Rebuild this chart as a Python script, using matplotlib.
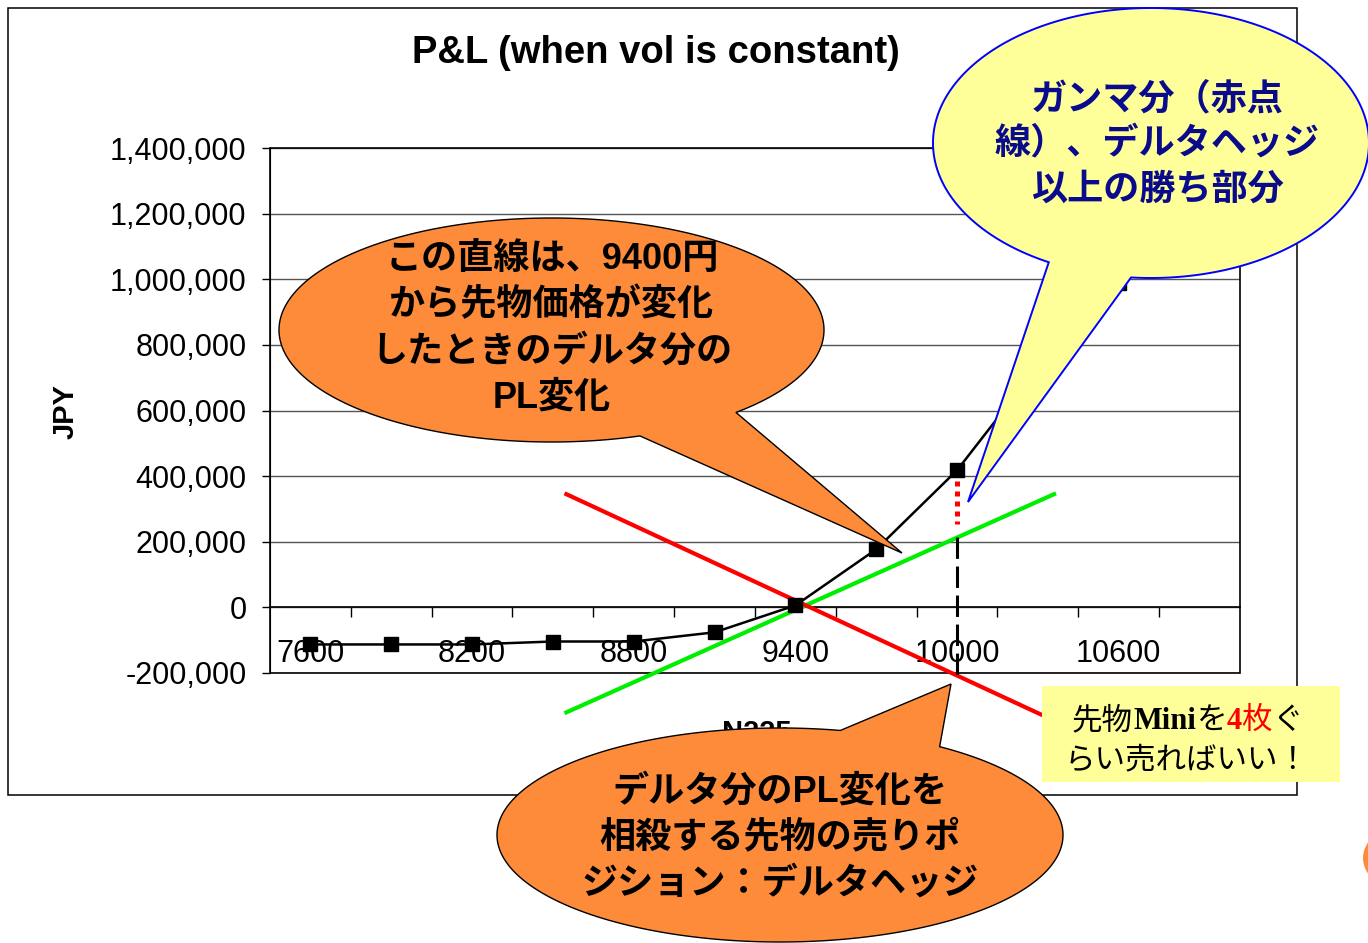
import numpy as np
import matplotlib
matplotlib.use("Agg")
import matplotlib.pyplot as plt
from matplotlib.patches import Polygon, Rectangle, Ellipse
from matplotlib.ticker import FuncFormatter

# P&L of the option position, one point per N225 level
n225 = [7600, 7900, 8200, 8500, 8800, 9100, 9400, 9700, 10000, 10300, 10600]
pnl = [-113000, -113000, -113000, -104000, -104000, -76000, 6000,
       177000, 418000, 735000, 990000]

# category axis (Excel style, 12 slots of 300)
categories = [7600 + 300 * i for i in range(12)]
xtick_labels = ['7600', '8200', '8800', '9400', '10000', '10600']

# delta line (green) and short futures hedge (red)
delta_x = [8550, 10360]
delta_pl = [-320000, 345000]
hedge_x = [8550, 10310]
hedge_pl = [345000, -326000]

# vertical markers at 10000
gamma_x = 10000
gamma_pl = [385000, 255000]
drop_pl = [215000, -207000]

ORANGE = '#FD8B3A'
YELLOW = '#FFFF99'
NAVY = '#0A0A8C'
JP = ['Liberation Sans', 'Noto Sans CJK JP']

W, H = 1368, 943
fig = plt.figure(figsize=(W / 100, H / 100), dpi=100)
fig.patch.set_facecolor('white')

ax = fig.add_axes([270 / W, 1 - 673 / H, 970 / W, 525 / H])
ax.set_zorder(1)
ax.set_xlim(categories[0] - 150, categories[-1] + 150)
ax.set_ylim(-200000, 1400000)

ax.set_axisbelow(True)
ax.yaxis.grid(True, color='#555555', linewidth=1)
ax.set_yticks(np.arange(-200000, 1400001, 200000))
ax.yaxis.set_major_formatter(FuncFormatter(lambda v, p: '{:,.0f}'.format(v)))
ax.tick_params(axis='y', length=6, width=1, pad=11, labelsize=22)

for s in ['top', 'right']:
    ax.spines[s].set_visible(False)
ax.spines['bottom'].set_position(('data', 0))
ax.spines['bottom'].set_linewidth(1.2)
ax.add_patch(Rectangle((0, 0), 1, 1, transform=ax.transAxes, fill=False,
                       edgecolor='black', linewidth=1.2, clip_on=False))

ax.set_xticks([int(t) for t in xtick_labels])
ax.set_xticklabels(xtick_labels)
ax.set_xticks([c + 150 for c in categories[:-1]], minor=True)
ax.tick_params(axis='x', which='major', length=0, pad=23, labelsize=22)
ax.tick_params(axis='x', which='minor', length=7, width=1, direction='out')
for lab in ax.get_xticklabels() + ax.get_yticklabels():
    lab.set_fontfamily('Liberation Sans')

ax.plot(n225, pnl, color='black', linewidth=1.8, marker='s',
        markersize=10, zorder=4)
ax.plot(delta_x, delta_pl, color='#00EE00', linewidth=3, clip_on=False, zorder=3)
ax.plot(hedge_x, hedge_pl, color='#FF0000', linewidth=3, clip_on=False, zorder=3)
ax.plot([gamma_x, gamma_x], gamma_pl, color='#FF0000', linewidth=3.6,
        linestyle=(0, (1, 1)), zorder=3)
ax.plot([gamma_x, gamma_x], drop_pl, color='black', linewidth=2.2,
        linestyle=(0, (7, 2.5)), clip_on=False, zorder=3)

# overlay in pixel coordinates for frame, titles and callouts
ov = fig.add_axes([0, 0, 1, 1])
ov.set_zorder(2)
ov.set_xlim(0, W)
ov.set_ylim(H, 0)
ov.axis('off')
ov.patch.set_alpha(0)

ov.add_patch(Rectangle((8, 8), 1289, 787, fill=False, edgecolor='black',
                       linewidth=1.1, zorder=1))
ov.text(656, 53, 'P&L (when vol is constant)', ha='center', va='center',
        fontsize=27.5, fontweight='bold', family='Liberation Sans')
ov.text(66, 412, 'JPY', ha='center', va='center', rotation=90,
        fontsize=21, fontweight='bold', family='Liberation Sans')
ov.text(757, 733, 'N225', ha='center', va='center',
        fontsize=21, fontweight='bold', family='Liberation Sans', zorder=1)


def balloon(cx, cy, rx, ry, b1, b2, tip, face, edge, lw):
    t1 = np.arctan2((b1[1] - cy) / ry, (b1[0] - cx) / rx)
    t2 = np.arctan2((b2[1] - cy) / ry, (b2[0] - cx) / rx)
    if (t2 - t1) % (2 * np.pi) < np.pi:
        ta, tb = t1, t2
    else:
        ta, tb = t2, t1
    span = 2 * np.pi - ((tb - ta) % (2 * np.pi))
    ts = np.linspace(tb, tb + span, 400)
    pts = np.column_stack([cx + rx * np.cos(ts), cy + ry * np.sin(ts)])
    pts = np.vstack([pts, tip])
    ov.add_patch(Polygon(pts, closed=True, facecolor=face, edgecolor=edge,
                         linewidth=lw, zorder=5))


balloon(551.5, 330, 272.5, 112, (640, 436), (735, 412), (902, 553),
        ORANGE, 'black', 1.0)
balloon(1151, 143, 218, 135, (1049, 262), (1131, 278), (968, 502),
        YELLOW, '#0000FF', 1.4)
balloon(780, 835, 283, 107, (840, 731), (939, 747), (951, 684),
        ORANGE, 'black', 1.0)
ov.add_patch(Ellipse((1398, 858), 70, 60, facecolor=ORANGE, edgecolor='none',
                     zorder=5))

lines1 = ['この直線は、9400円', 'から先物価格が変化', 'したときのデルタ分の', 'PL変化']
for txt, y in zip(lines1, [260, 306, 352, 398]):
    ov.text(552, y, txt, ha='center', va='center', fontsize=26,
            fontweight='bold', family=JP, zorder=6)

lines2 = ['ガンマ分（赤点', '線）、デルタヘッジ', '以上の勝ち部分']
for txt, y in zip(lines2, [100, 145, 190]):
    ov.text(1157, y, txt, ha='center', va='center', fontsize=26,
            fontweight='bold', family=JP, color=NAVY, zorder=6)

lines3 = ['デルタ分のPL変化を', '相殺する先物の売りポ', 'ジション：デルタヘッジ']
for txt, y in zip(lines3, [792, 838, 884]):
    ov.text(780, y, txt, ha='center', va='center', fontsize=26,
            fontweight='bold', family=JP, zorder=6)

# yellow note box with mixed styles
ov.add_patch(Rectangle((1042, 686), 298, 96, facecolor=YELLOW,
                       edgecolor='none', zorder=5))
renderer = fig.canvas.get_renderer()
pieces = [('先物', 'black', 'normal', 'Noto Sans CJK JP'),
          ('Mini', 'black', 'bold', 'Liberation Serif'),
          ('を', 'black', 'normal', 'Noto Sans CJK JP'),
          ('4', '#FF0000', 'bold', 'Liberation Serif'),
          ('枚', '#FF0000', 'normal', 'Noto Sans CJK JP'),
          ('ぐ', 'black', 'normal', 'Noto Sans CJK JP')]
x = 1072
for s, c, w, f in pieces:
    t = ov.text(x, 729, s, ha='left', va='baseline', fontsize=22,
                fontweight=w, family=f, color=c, zorder=6)
    x += t.get_window_extent(renderer=renderer).width
ov.text(1065, 768, 'らい売ればいい！', ha='left', va='baseline', fontsize=22,
        family='Noto Sans CJK JP', zorder=6)

fig.savefig('out.png', dpi=100)
